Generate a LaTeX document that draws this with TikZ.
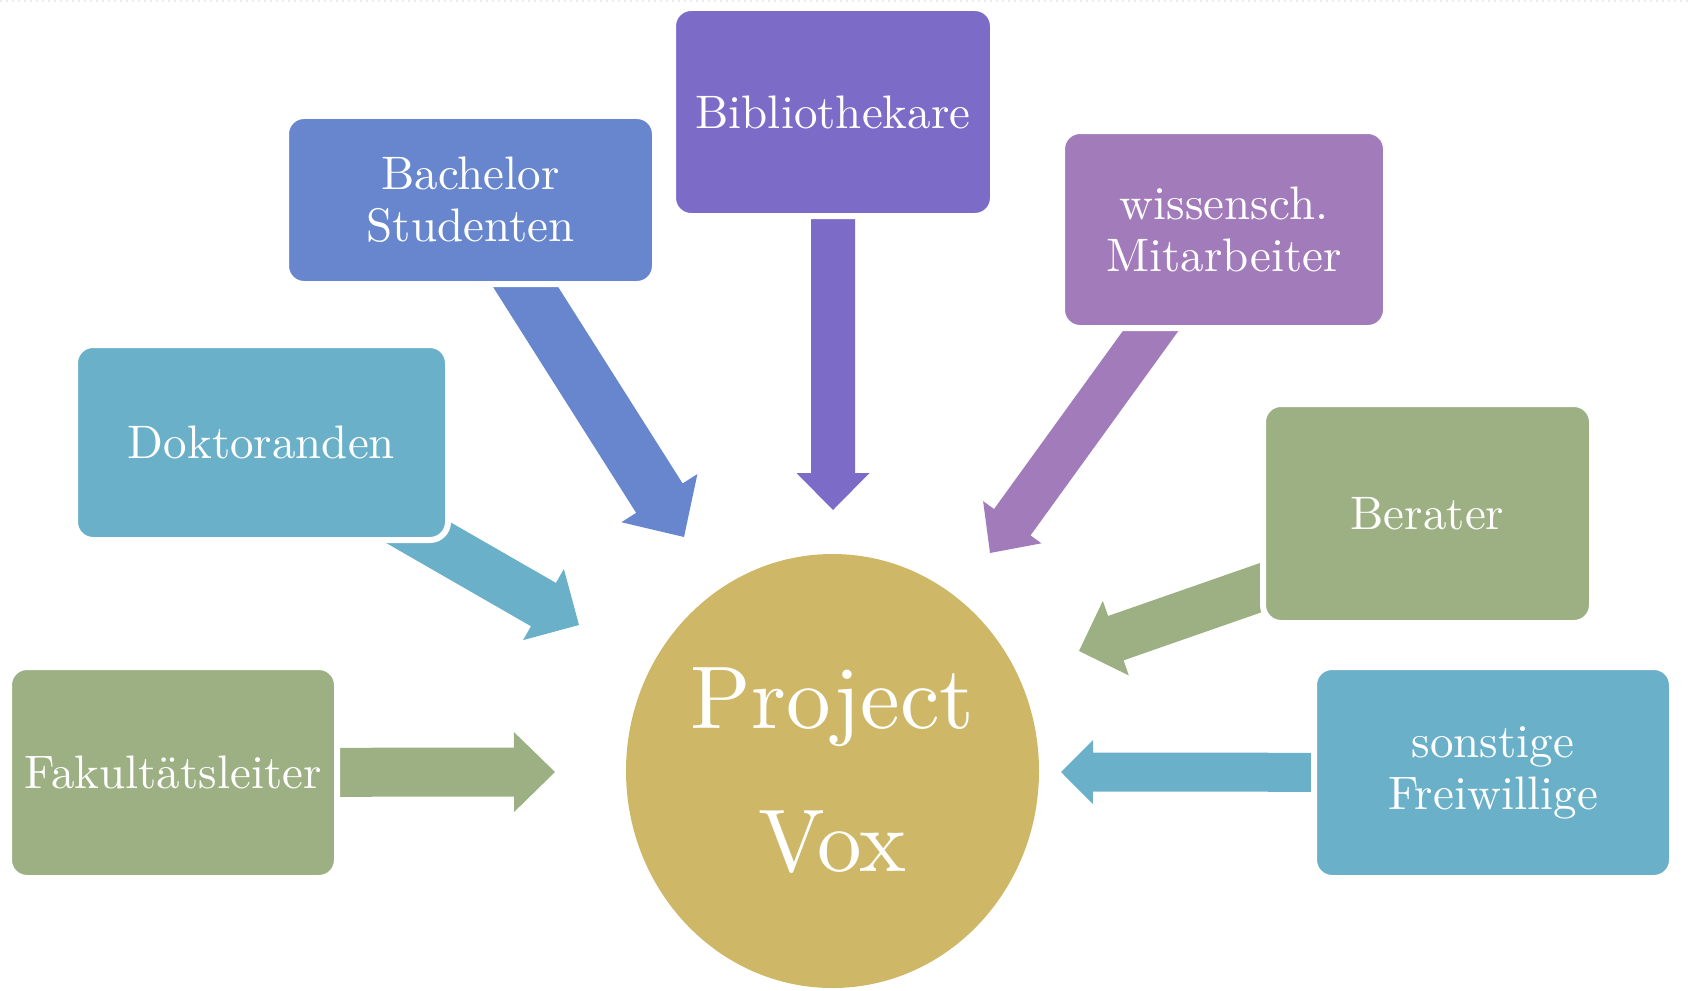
\documentclass[tikz,border=0pt]{standalone}
\usepackage{fontspec}
\setmainfont{lmroman10-regular.otf}
\usetikzlibrary{calc,shapes.geometric}
\definecolor{cbib}{HTML}{7D6BC8}
\definecolor{cbach}{HTML}{6786CE}
\definecolor{cwiss}{HTML}{A27BBA}
\definecolor{cteal}{HTML}{6AB0C9}
\definecolor{cgreen}{HTML}{9CB083}
\definecolor{cgold}{HTML}{CEB867}
% #1 start, #2 tip, #3 half shaft, #4 half head, #5 head length, #6 style
\newcommand{\blockarr}[6]{%
  \coordinate (#2-b) at ($(#2)!#5!(#1)$);
  \fill[#6] ($(#1)!#3!90:(#2)$) -- ($(#2-b)!#3!90:(#2)$) -- ($(#2-b)!#4!90:(#2)$)
    -- (#2) -- ($(#2-b)!#4!-90:(#2)$) -- ($(#2-b)!#3!-90:(#2)$) -- ($(#1)!#3!-90:(#2)$) -- cycle;
}
\begin{document}
\begin{tikzpicture}[x=0.5pt,y=-0.5pt,
  box/.style={rounded corners=9pt, draw=white, line width=3pt, inner sep=0pt, outer sep=0pt,
    text=white, align=center, font=\fontsize{23.5}{26}\selectfont},
  big/.style={ellipse, fill=cgold, inner sep=0pt, text=white, align=center,
    font=\fontsize{44.5}{71.5}\selectfont},
  abib/.style={fill=cbib}, abach/.style={fill=cbach}, awiss/.style={fill=cwiss},
  ateal/.style={fill=cteal}, agreen/.style={fill=cgreen}]
\useasboundingbox (0,0) rectangle (1690,990);
\draw[gray!15, dotted, line width=1pt] (0,1) -- (1690,1);

% circle
\node[big, minimum width=206.5pt, minimum height=217pt] (pv) at (832.5,771) {Project\\Vox};

% box positions
\coordinate (cbibc) at (833,112);
\coordinate (cbachc) at (470.5,200);
\coordinate (cwissc) at (1224,229.5);
\coordinate (cdokc) at (261.5,442.5);
\coordinate (cberc) at (1427.5,513.5);
\coordinate (cfakc) at (173,772.5);
\coordinate (csonc) at (1493,772.5);

% arrow tips
\coordinate (t1) at (833,510);
\coordinate (t2) at (684,537);
\coordinate (t3) at (990,553);
\coordinate (t4) at (579,625);
\coordinate (t5) at (1079,651);
\coordinate (t6) at (555,772);
\coordinate (t7) at (1061,772);
\coordinate (s5) at ([yshift=-8pt]cberc);

\blockarr{cbibc}{t1}{11pt}{18.25pt}{18.5pt}{abib}
\blockarr{cbachc}{t2}{13.75pt}{22.5pt}{23pt}{abach}
\blockarr{cwissc}{t3}{11.25pt}{18pt}{19pt}{awiss}
\blockarr{cdokc}{t4}{12.5pt}{20.5pt}{20.5pt}{ateal}
\blockarr{s5}{t5}{11.75pt}{19.75pt}{19.5pt}{agreen}
\blockarr{cfakc}{t6}{12.25pt}{20pt}{20.5pt}{agreen}
\blockarr{csonc}{t7}{9.75pt}{16pt}{16pt}{ateal}

% boxes
\node[box, fill=cbib, minimum width=160pt, minimum height=104pt] (bib) at (cbibc) {Bibliothekare};
\node[box, fill=cbach, minimum width=184.5pt, minimum height=84pt] (bach) at (cbachc) {Bachelor\\Studenten};
\node[box, fill=cwiss, minimum width=162pt, minimum height=98.5pt] (wiss) at (cwissc) {wissensch.\\Mitarbeiter};
\node[box, fill=cteal, minimum width=186.5pt, minimum height=97.5pt] (dok) at (cdokc) {Doktoranden};
\node[box, fill=cgreen, minimum width=164.5pt, minimum height=109.5pt] (ber) at (cberc) {Berater};
\node[box, fill=cgreen, minimum width=164pt, minimum height=105.5pt] (fak) at (cfakc) {Fakultätsleiter};
\node[box, fill=cteal, minimum width=179pt, minimum height=105.5pt] (son) at (csonc) {sonstige\\Freiwillige};
\end{tikzpicture}
\end{document}
